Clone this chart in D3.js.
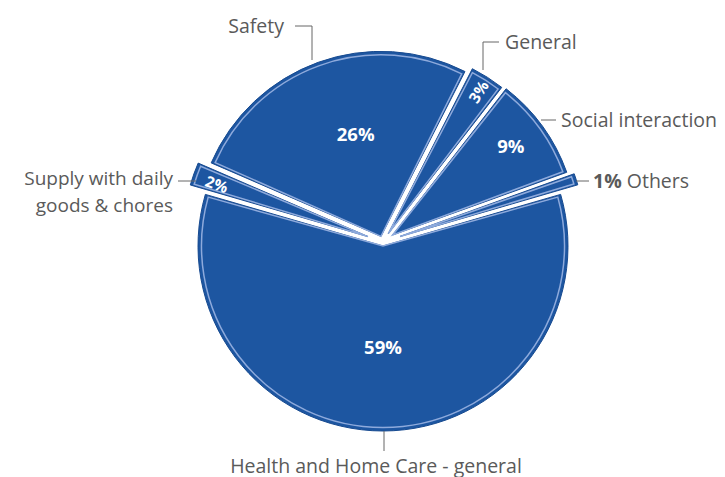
<!DOCTYPE html>
<html>
<head>
<meta charset="utf-8">
<script src="https://cdn.jsdelivr.net/npm/d3@7/dist/d3.min.js"></script>
<style>
  body { margin: 0; background: #fff; }
  text { font-family: 'Open Sans', sans-serif; }
</style>
</head>
<body>
<svg id="chart" width="725" height="477"></svg>
<script>
const categories = [
  'Safety',
  'General',
  'Social interaction',
  'Others',
  'Health and Home Care - general',
  'Supply with daily goods & chores'
]
const values = [26, 3, 9, 1, 59, 2]
const valueLabels = ['26%', '3%', '9%', '1%', '59%', '2%']

const width = 725
const height = 477
const cx = 383
const cy = 242
const radius = 185

// how far each slice is pulled out of the pie
const explode = { Safety: 6, General: 10, 'Social interaction': 12, Others: 18, 'Health and Home Care - general': 4, 'Supply with daily goods & chores': 16 }
// polar position of the white percentage (radius, angle nudge in degrees)
const labelPos = {
  Safety: [106, 6],
  General: [168, 0],
  'Social interaction': [148, -1],
  'Health and Home Care - general': [100, 0],
  'Supply with daily goods & chores': [160, -0.6]
}

const data = categories.map((c, i) => ({ key: c, value: values[i], label: valueLabels[i] }))

const start = -66.6 * Math.PI / 180
const pie = d3.pie().sort(null).value(d => d.value).startAngle(start).endAngle(start + 2 * Math.PI)
const arcs = pie(data)

const outer = d3.arc().innerRadius(0).outerRadius(radius)
const inner = d3.arc().innerRadius(0).outerRadius(radius - 3.5).padAngle(0.02).padRadius(radius)

const svg = d3.select('#chart')
const g = svg.append('g').attr('transform', `translate(${cx},${cy})`)

const mid = d => (d.startAngle + d.endAngle) / 2
const shift = d => {
  const a = mid(d)
  const o = explode[d.data.key]
  return [Math.sin(a) * o, -Math.cos(a) * o]
}

const slices = g.selectAll('.slice')
  .data(arcs)
  .enter()
  .append('g')
  .attr('class', 'slice')
  .attr('transform', d => `translate(${shift(d)})`)

slices.append('path')
  .attr('d', outer)
  .attr('fill', '#1d56a1')
  .attr('stroke', '#174a90')
  .attr('stroke-width', 1)

slices.append('path')
  .attr('d', inner)
  .attr('fill', 'none')
  .attr('stroke', '#8eaadc')
  .attr('stroke-width', 1.5)

// white percentages inside slices
const small = k => k === 'General' || k === 'Supply with daily goods & chores'
slices.filter(d => d.data.key !== 'Others')
  .append('text')
  .attr('transform', d => {
    const p = labelPos[d.data.key]
    const a = mid(d) + p[1] * Math.PI / 180
    const x = Math.sin(a) * p[0]
    const y = -Math.cos(a) * p[0]
    let rot = 0
    if (d.data.key === 'General') rot = (mid(d) * 180 / Math.PI) - 90
    if (d.data.key === 'Supply with daily goods & chores') rot = (mid(d) * 180 / Math.PI) + 90
    return `translate(${x},${y}) rotate(${rot})`
  })
  .attr('text-anchor', 'middle')
  .attr('dominant-baseline', 'central')
  .attr('fill', '#fff')
  .attr('font-weight', 'bold')
  .attr('font-size', d => small(d.data.key) ? 15.5 : 18.5)
  .text(d => d.data.label)

// category labels and leader lines
const labelColor = '#5a5a5a'
const lineColor = '#666'
const lab = svg.append('g')
  .attr('fill', labelColor)
  .attr('font-size', 19.5)

lab.append('text').attr('x', 284).attr('y', 25).attr('text-anchor', 'end')
  .attr('dominant-baseline', 'central').text(categories[0])
lab.append('path').attr('d', 'M295,26H312V60').attr('fill', 'none').attr('stroke', lineColor)

lab.append('text').attr('x', 505).attr('y', 41)
  .attr('dominant-baseline', 'central').text(categories[1])
lab.append('path').attr('d', 'M499,42H483V70').attr('fill', 'none').attr('stroke', lineColor)

lab.append('text').attr('x', 561).attr('y', 119)
  .attr('dominant-baseline', 'central').text(categories[2])
lab.append('path').attr('d', 'M541,120H556').attr('fill', 'none').attr('stroke', lineColor)

const others = lab.append('text').attr('x', 593).attr('y', 180).attr('dominant-baseline', 'central')
others.append('tspan').attr('font-weight', 'bold').text(valueLabels[3])
others.append('tspan').text(' ' + categories[3])
lab.append('path').attr('d', 'M576,181H589').attr('fill', 'none').attr('stroke', lineColor)

const supply = lab.append('text').attr('text-anchor', 'end').attr('font-size', 19)
supply.append('tspan').attr('x', 173).attr('y', 178).attr('dominant-baseline', 'central').text('Supply with daily')
supply.append('tspan').attr('x', 173).attr('y', 205).attr('dominant-baseline', 'central').text('goods & chores')
lab.append('path').attr('d', 'M178,181H196').attr('fill', 'none').attr('stroke', lineColor)

lab.append('text').attr('x', 376).attr('y', 465).attr('text-anchor', 'middle')
  .attr('dominant-baseline', 'central').text(categories[4])
lab.append('path').attr('d', 'M384,431V451').attr('fill', 'none').attr('stroke', lineColor)
</script>
</body>
</html>
